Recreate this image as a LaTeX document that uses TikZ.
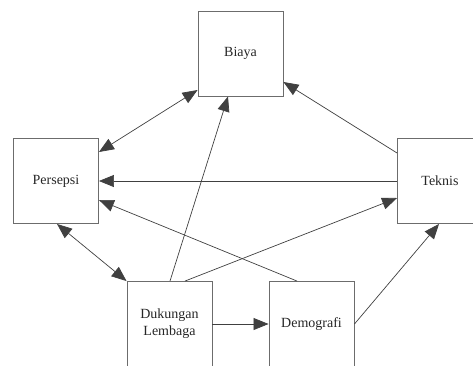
\documentclass[tikz,border=0pt]{standalone}
\usepackage{fontspec}
\setmainfont{Liberation Serif}
\usepackage{tikz}
\usetikzlibrary{arrows.meta, positioning}

\begin{document}
\begin{tikzpicture}[
    x=1pt, y=-1pt,
    box/.style = {
        rectangle, draw=gray!85!black, line width=0.9pt,
        minimum width=85pt, minimum height=85pt,
        align=center, font=\fontsize{14pt}{17pt}\selectfont, text=black!85
    },
    arr/.style  = {-{Triangle[length=15pt, width=12pt]}, line width=0.7pt, draw=black!75},
    darr/.style = {{Triangle[length=15pt, width=12pt]}-{Triangle[length=15pt, width=12pt]}, line width=0.7pt, draw=black!75}
]
\useasboundingbox (0,0) rectangle (473,365);
% boxes
\node[box] (biaya)    at (240.5,53.5) {Biaya};
\node[box] (persepsi) at (56,181)     {Persepsi};
\node[box] (teknis)   at (440,181)    {Teknis};
\node[box] (dukungan) at (169.5,324)  {Dukungan\\Lembaga};
\node[box] (demografi) at (311.5,324) {Demografi};
% connectors
\draw[darr] ([yshift=29pt]persepsi.east) -- ([yshift=-36.5pt]biaya.west);
\draw[arr]  ([xshift=0.5pt]dukungan.north) -- ([xshift=-12.5pt]biaya.south);
\draw[arr]  ([yshift=28pt]teknis.west) -- ([yshift=-28.5pt]biaya.east);
\draw[arr]  (teknis.west) -- (persepsi.east);
\draw[arr]  ([xshift=-14.5pt]demografi.north) -- ([yshift=-19pt]persepsi.east);
\draw[arr]  ([xshift=15.5pt]dukungan.north) -- ([yshift=-17pt]teknis.west);
\draw[darr] ([xshift=1pt]persepsi.south) -- (dukungan.north west);
\draw[arr]  (dukungan.east) -- (demografi.west);
\draw[arr]  (demografi.east) -- ([xshift=-1pt]teknis.south);
\end{tikzpicture}
\end{document}
